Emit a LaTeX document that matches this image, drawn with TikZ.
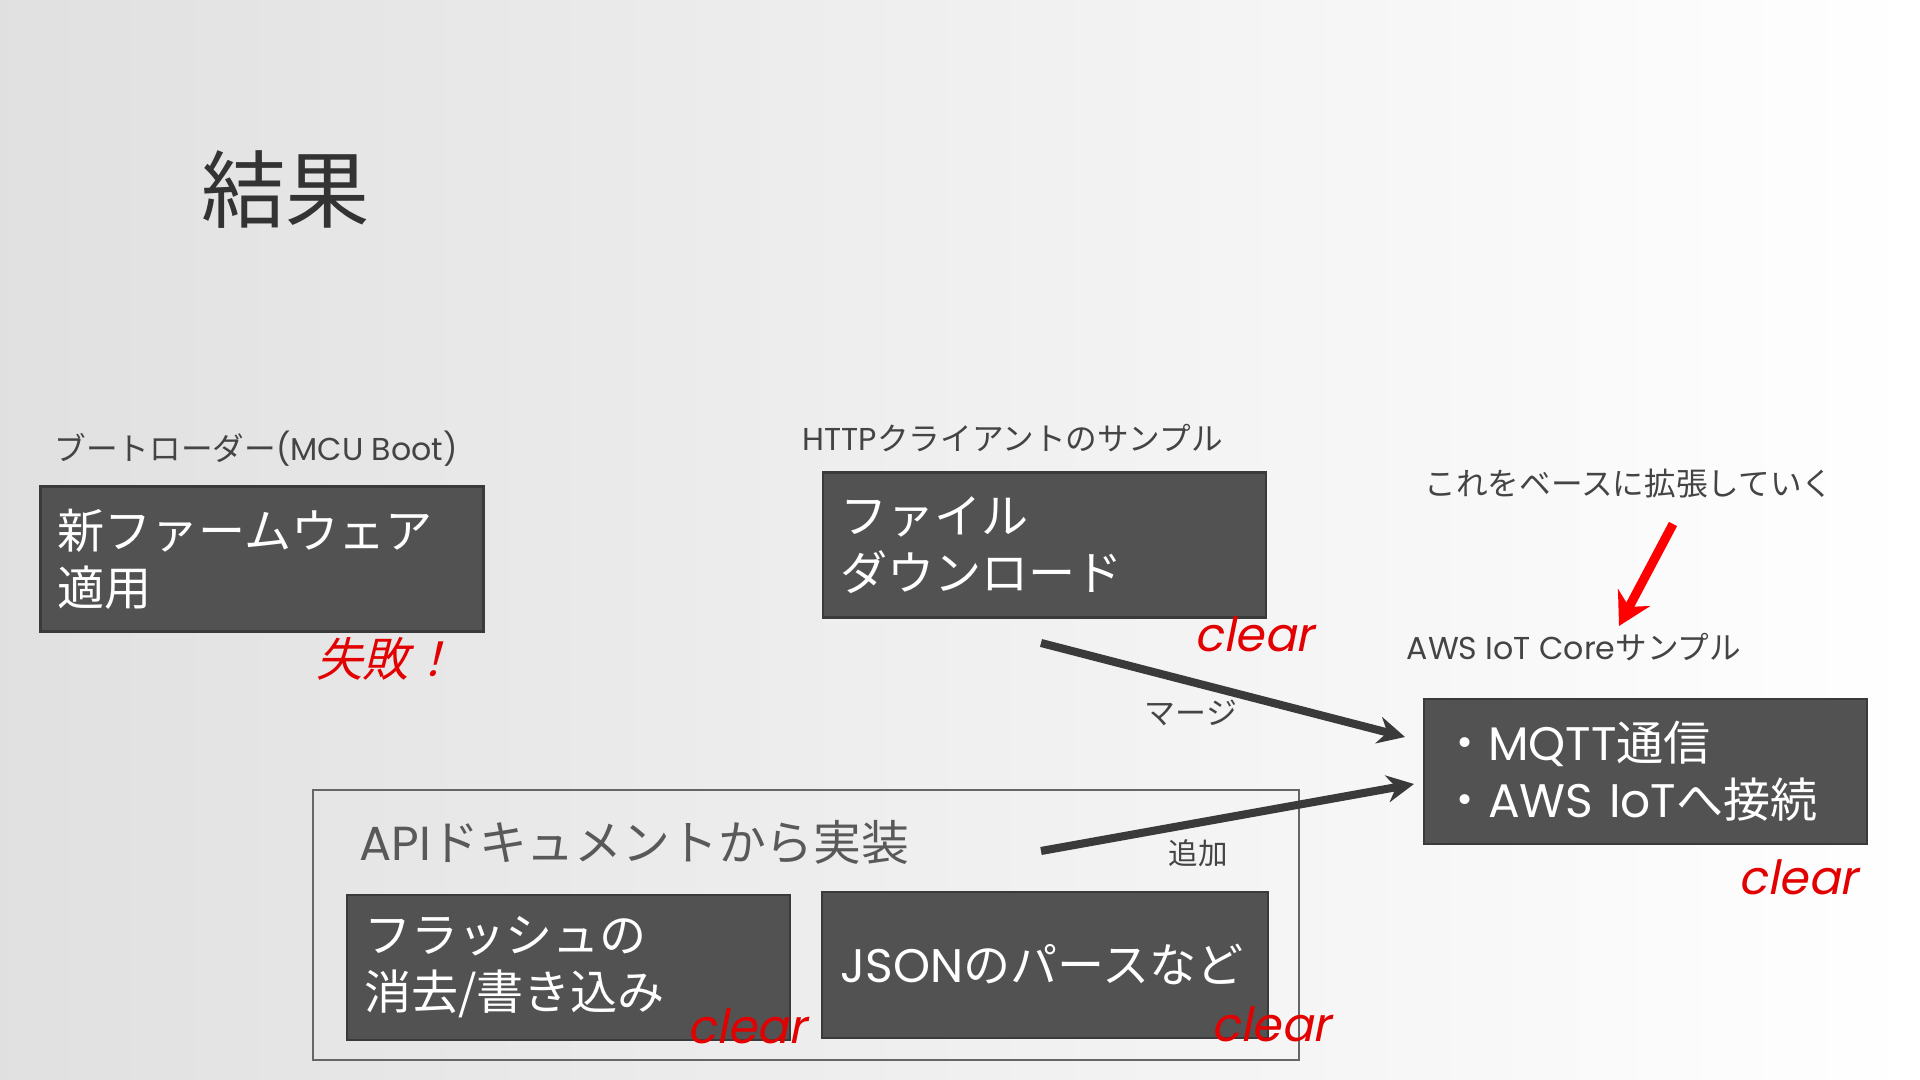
\documentclass[tikz,border=0pt]{standalone}
\usepackage{fontspec}
\setmainfont{Poppins}
\newfontfamily\jp{Noto Sans CJK JP}
\newfontfamily\jpslant[FakeSlant=0.25]{Noto Sans CJK JP}
\newfontfamily\clearfont[FakeSlant=0.2]{Poppins}
\usetikzlibrary{arrows.meta}
\definecolor{boxgray}{RGB}{82,82,82}
\definecolor{edgegray}{RGB}{58,58,58}
\definecolor{labelgray}{RGB}{68,68,68}
\definecolor{okred}{RGB}{226,0,0}

\begin{document}
\begin{tikzpicture}[
    darkbox/.style={draw=edgegray, line width=0.8pt, fill=boxgray, text=white,
      minimum width=4.43cm, minimum height=1.45cm, text width=4.09cm,
      inner xsep=0.17cm, align=left, font=\fontsize{13.4}{16.2}\selectfont},
    caption/.style={anchor=west, inner sep=0pt, text=labelgray,
      font=\fontsize{9}{11}\selectfont},
    cleartag/.style={text=okred, inner sep=0pt, font=\clearfont\fontsize{13.4}{16}\selectfont},
    flow/.style={draw=edgegray, line width=2.3pt, -{Stealth[length=0.27cm, width=0.27cm]}}
  ]
    \shade[left color=black!12, right color=white] (0,0) rectangle (19.2,10.8);
    \useasboundingbox (0,0) rectangle (19.2,10.8);

    \node[text=black!80, font=\jp\fontsize{24}{28}\selectfont] (title) at (2.855,8.9) {結果};

    \node[caption] (bootcap) at (0.54,6.31) {{\jp ブートローダー}(MCU Boot)};
    \node[darkbox] (fw) at (2.62,5.21) {\jp 新ファームウェア\\適用};
    \node[text=okred, inner sep=0pt, font=\jpslant\fontsize{13.2}{15}\selectfont] (fail) at (3.86,4.21) {失敗！};

    \node[caption] (httpcap) at (8.02,6.42) {HTTP{\jp クライアントのサンプル}};
    \node[darkbox] (dl) at (10.445,5.35) {\jp ファイル\\ダウンロード};
    \node[cleartag] (dlok) at (12.54,4.46) {clear};

    \node[caption] (basecap) at (14.24,5.96) {\jp これをベースに拡張していく};
    \node[caption] (awscap) at (14.06,4.33) {AWS IoT Core{\jp サンプル}};
    \node[darkbox] (mqtt) at (16.455,3.085) {{\jp ・}MQTT{\jp 通信}\\{\jp ・}AWS IoT{\jp へ接続}};
    \node[cleartag] (mqttok) at (17.98,2.03) {clear};

    \node[draw=black!60, line width=0.8pt, minimum width=9.86cm, minimum height=2.7cm] (api) at (8.06,1.55) {};
    \node[anchor=west, inner sep=0pt, text=black!65, font=\fontsize{13.6}{16}\selectfont] (apicap) at (3.59,2.38) {API{\jp ドキュメントから実装}};
    \node[darkbox] (flash) at (5.685,1.125) {\jp フラッシュの\\消去/書き込み};
    \node[cleartag] (flashok) at (7.47,0.54) {clear};
    \node[darkbox, minimum width=4.46cm, minimum height=1.46cm] (json) at (10.45,1.15) {JSON{\jp のパースなど}};
    \node[cleartag] (jsonok) at (12.71,0.56) {clear};

    \coordinate (mergefrom) at (10.41,4.37);
    \coordinate (mergeto) at (14.05,3.43);
    \coordinate (addfrom) at (10.41,2.29);
    \coordinate (addto) at (14.14,2.96);
    \coordinate (basefrom) at (16.73,5.56);
    \coordinate (baseto) at (16.19,4.54);

    \draw[flow] (mergefrom) -- (mergeto);
    \draw[flow] (addfrom) -- (addto);
    \draw[draw=red, line width=2.6pt, -{Stealth[length=0.32cm, width=0.36cm]}] (basefrom) -- (baseto);

    \node[text=labelgray, font=\jp\fontsize{8.8}{10}\selectfont] (mergelbl) at (11.91,3.67) {マージ};
    \node[text=labelgray, font=\jp\fontsize{8.4}{10}\selectfont] (addlbl) at (11.98,2.27) {追加};
\end{tikzpicture}
\end{document}
